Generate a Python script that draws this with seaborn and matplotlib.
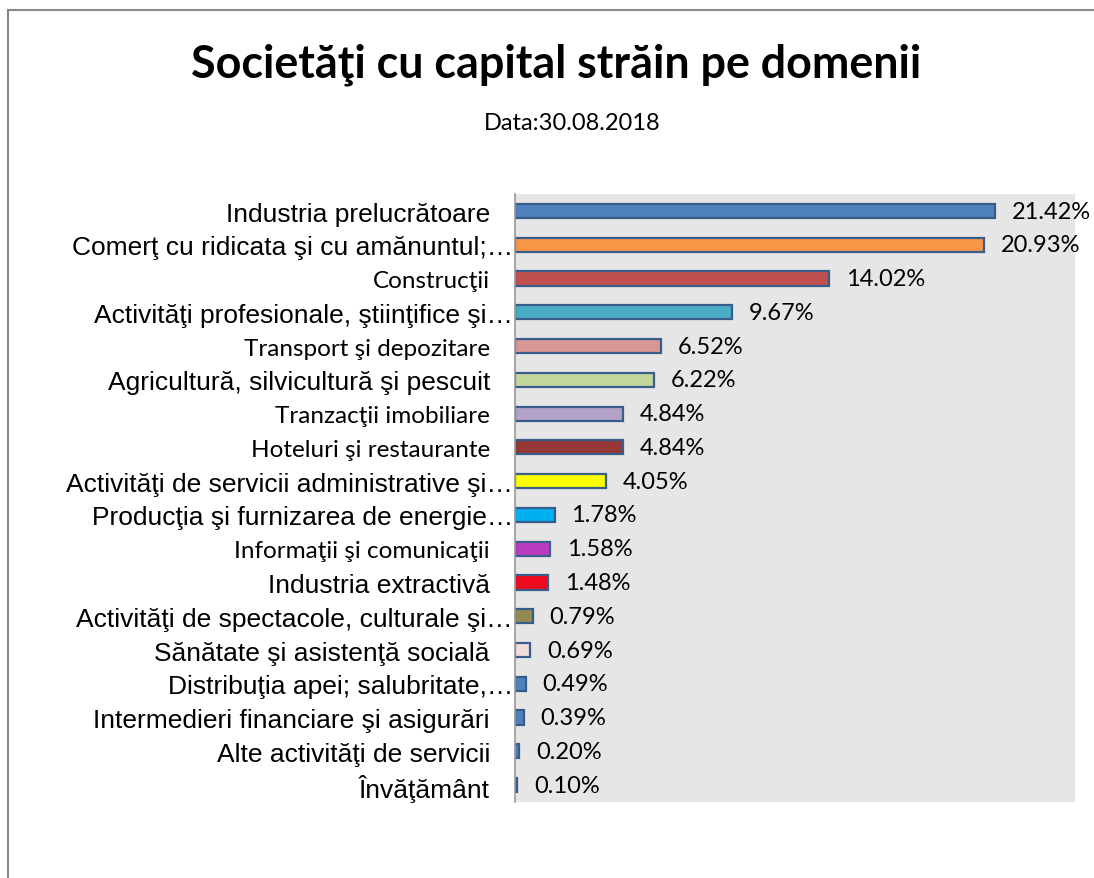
#!/usr/bin/env python3
import numpy as np
import pandas as pd
import seaborn as sns
import matplotlib.pyplot as plt
from matplotlib.patches import Rectangle
from matplotlib.transforms import ScaledTranslation

categories = [
    "Industria prelucrătoare",
    "Comerţ cu ridicata şi cu amănuntul;…",
    "Construcţii",
    "Activităţi profesionale, ştiinţifice şi…",
    "Transport şi depozitare",
    "Agricultură, silvicultură şi pescuit",
    "Tranzacţii imobiliare",
    "Hoteluri şi restaurante",
    "Activităţi de servicii administrative şi…",
    "Producţia şi furnizarea de energie…",
    "Informaţii şi comunicaţii",
    "Industria extractivă",
    "Activităţi de spectacole, culturale şi…",
    "Sănătate şi asistenţă socială",
    "Distribuţia apei; salubritate,…",
    "Intermedieri financiare şi asigurări",
    "Alte activităţi de servicii",
    "Învăţământ",
]
shares = [21.42, 20.93, 14.02, 9.67, 6.52, 6.22, 4.84, 4.84, 4.05,
          1.78, 1.58, 1.48, 0.79, 0.69, 0.49, 0.39, 0.20, 0.10]
colors = ["#4F81BD", "#F79646", "#C0504D", "#4BACC6", "#D99694", "#C3D69B",
          "#B3A2C7", "#953735", "#FFFF00", "#00B0F0", "#BB3BBE", "#EE0A1E",
          "#948A54", "#F2DCDB", "#4F81BD", "#4F81BD", "#4F81BD", "#4F81BD"]
# labels set in the narrower (Calibri-like) face in the original
calibri_labels = {"Construcţii", "Transport şi depozitare", "Tranzacţii imobiliare",
                  "Hoteluri şi restaurante", "Informaţii şi comunicaţii"}

df = pd.DataFrame({"cat": categories, "val": shares})

sns.set_style("white")
plt.rcParams["text.color"] = "black"
plt.rcParams["ytick.color"] = "black"
fig = plt.figure(figsize=(10.94, 8.79), dpi=100)
ax = fig.add_axes([0.4707, 0.0865, 0.512, 0.6915])
ax.set_facecolor("#E6E6E6")

sns.barplot(data=df, y="cat", x="val", hue="cat", palette=colors, legend=False,
            orient="h", width=0.42, saturation=1, edgecolor="#385D8A", linewidth=1.6, ax=ax)

ax.set_xlim(0, 25)
ax.set_xlabel("")
ax.set_ylabel("")
ax.set_xticks([])
for s in ["top", "right", "bottom"]:
    ax.spines[s].set_visible(False)
ax.spines["left"].set_color("#999999")
ax.spines["left"].set_linewidth(1.2)

ax.tick_params(axis="y", length=0, pad=18, labelcolor="black")
for lab in ax.get_yticklabels():
    txt = lab.get_text()
    if txt in calibri_labels:
        lab.set_fontfamily("Lato")
        lab.set_fontsize(17.5)
    else:
        lab.set_fontfamily("Liberation Sans")
        lab.set_fontsize(19)
    if txt.endswith("…"):
        lab.set_transform(lab.get_transform() + ScaledTranslation(23 / 100, 0, fig.dpi_scale_trans))

for cont in ax.containers:
    ax.bar_label(cont, fmt="%.2f%%", padding=12, fontsize=17, family="Lato", color="black")

fig.text(556 / 1094, 1 - 77 / 879, "Societăţi cu capital străin pe domenii", ha="center",
         va="baseline", fontsize=32.3, fontweight="bold", family="Lato")
fig.text(572 / 1094, 1 - 130 / 879, "Data:30.08.2018", ha="center", va="baseline",
         fontsize=17, family="Lato")

fig.patches.append(Rectangle((8 / 1094, -0.1), 1.2, 1 - 11 / 879 + 0.1, transform=fig.transFigure,
                             fill=False, edgecolor="#888888", linewidth=1.5))

fig.savefig("out.png", dpi=100)
